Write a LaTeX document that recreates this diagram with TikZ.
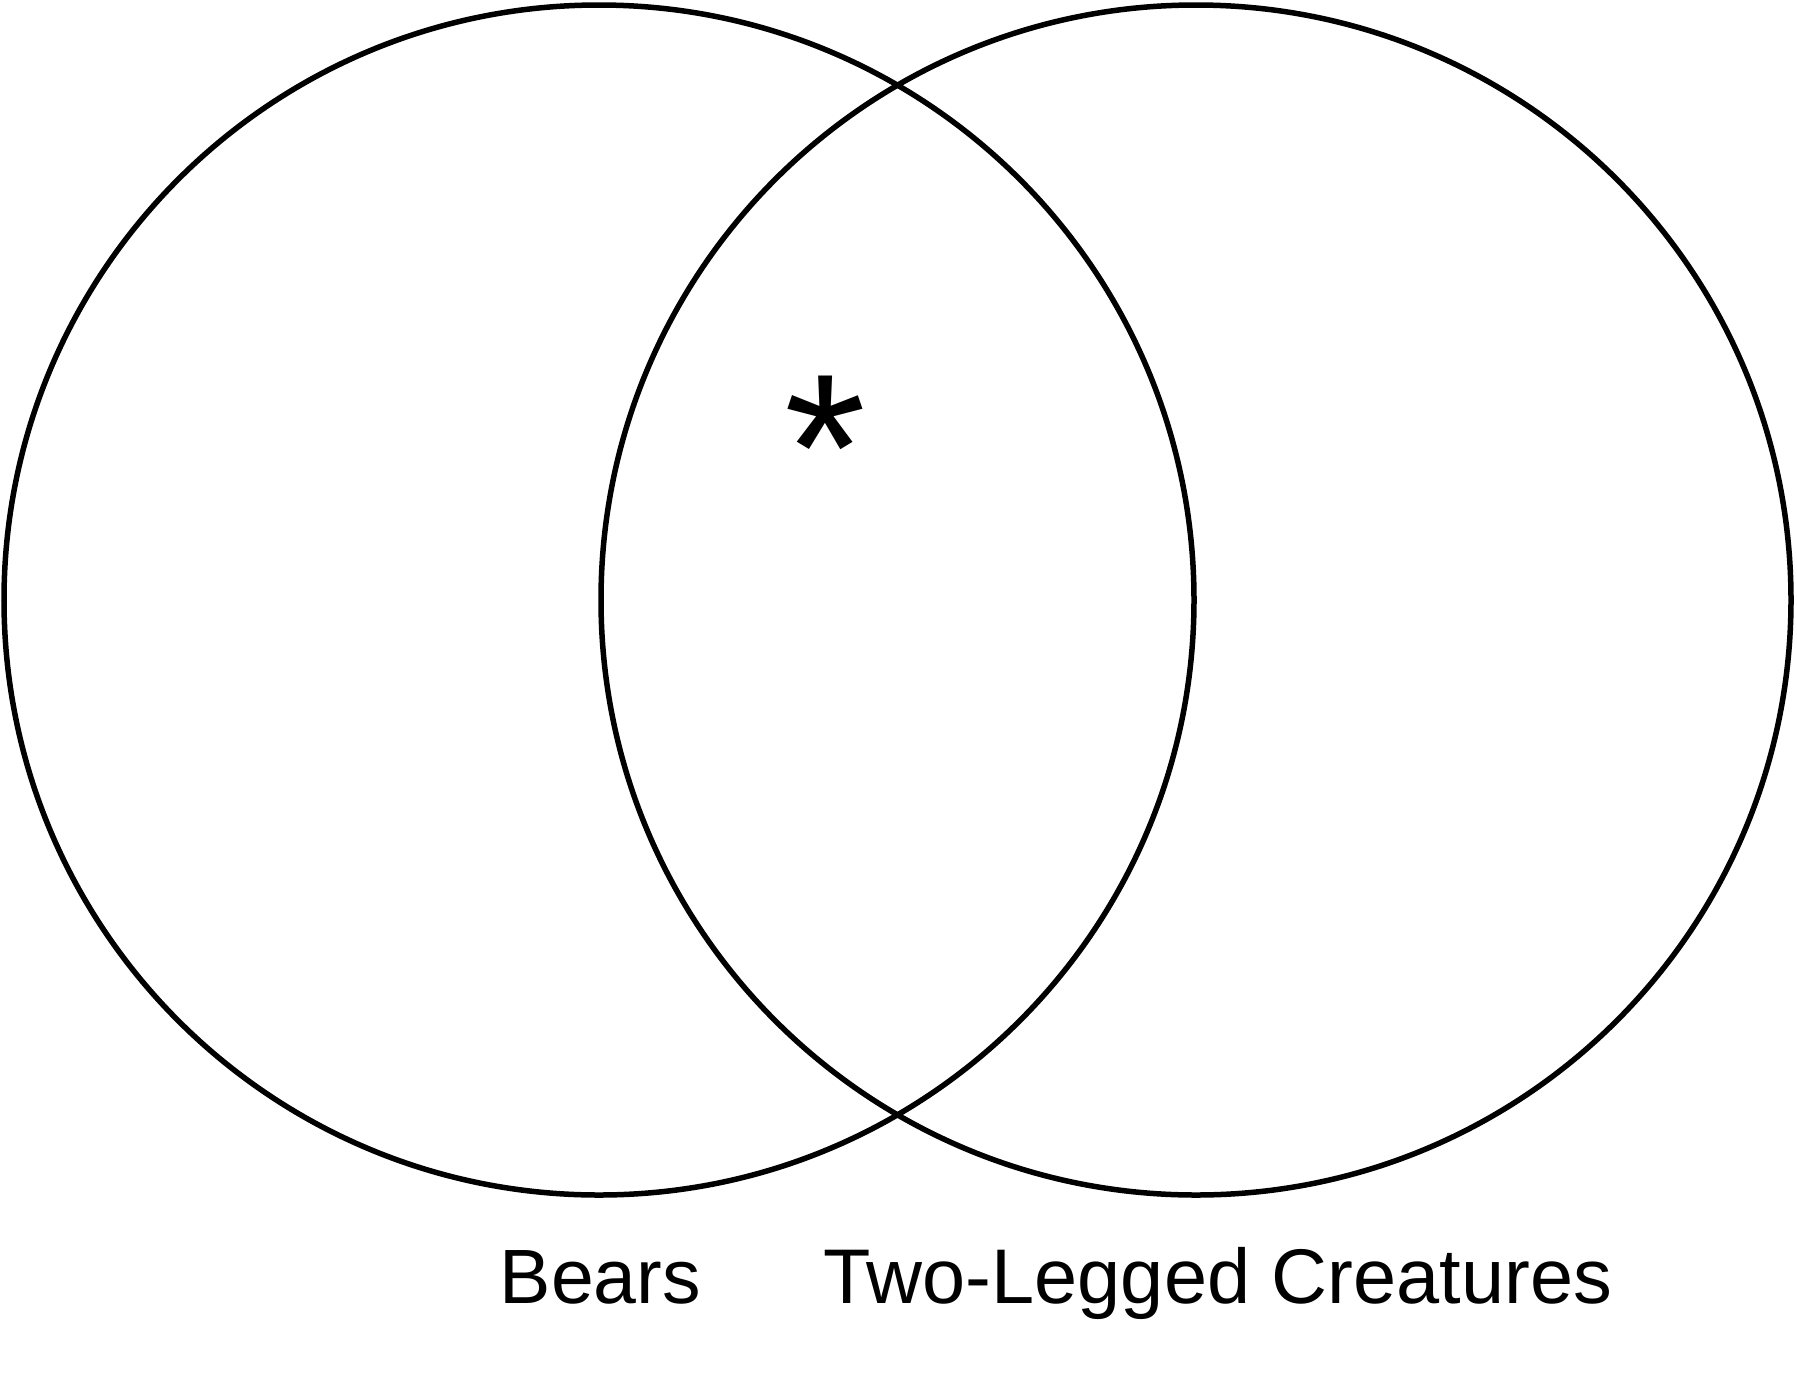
\documentclass[tikz,border=0pt]{standalone}
\usepackage{fontspec}
\setmainfont{Liberation Sans}
\usetikzlibrary{positioning}

\begin{document}
\begin{tikzpicture}[x=1pt,y=-1pt,line width=5.5pt]
        \useasboundingbox (0,0) rectangle (1797,1377);
        \coordinate (cb) at (599,600);
        \coordinate (ct) at (1196,600);
        \draw (cb) circle[radius=595];
        \draw (ct) circle[radius=595];

        \node[inner sep=0pt, anchor=base, font=\fontsize{210}{210}\selectfont] at (825,520)(star){*};
        \node[inner sep=0pt, anchor=base west, font=\fontsize{77}{90}\selectfont] at (497,1303)(bears){Bears};
        \node[inner sep=0pt, anchor=base west, font=\fontsize{77.5}{90}\selectfont] at (821,1303)(legs){Two-Legged Creatures};
    \end{tikzpicture}
\end{document}
